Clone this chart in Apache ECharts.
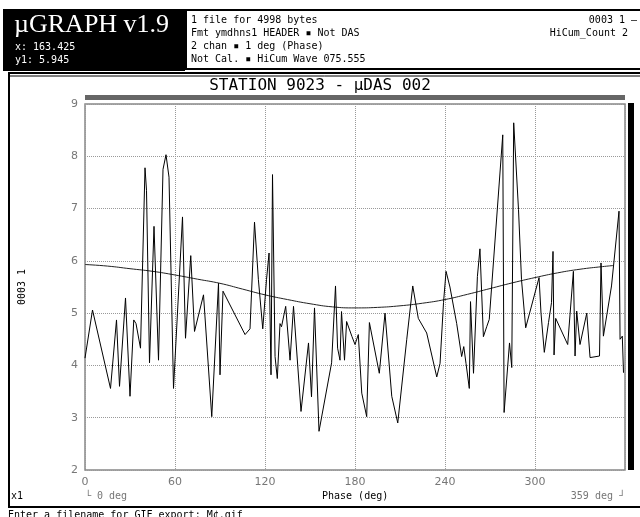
<!DOCTYPE html>
<html>
<head>
<meta charset="utf-8">
<script src="https://cdn.jsdelivr.net/npm/echarts@6/dist/echarts.min.js"></script>
<style>
html,body{margin:0;padding:0;background:#fff;}
#c{width:640px;height:517px;}
</style>
</head>
<body>
<div id="c"></div>
<script>
// Noisy channel (phase in degrees, value)
var phase = [0,5,17,21,23,27,30,32.5,34,37,40,41,43,46,49,52,54,56,59,65,67,70.5,73,79,84.5,89,90,92,106.7,110,113,115.6,118.5,121,122.7,124,125,126.7,128.2,130,131,133.8,136.7,139,144,149,151,153,156,164.4,167,168.4,170,171,173,174.4,178,180,182.2,184.5,187.8,189.6,196.2,200,204.5,208.5,214.5,218.5,222.2,227.8,234.5,236.7,239,240.7,243.3,247.8,251.1,252.5,254,256.2,257,259,261.6,263.3,265.6,267.8,269.5,278.5,279.4,283,284.5,285.8,289,291,293.8,302.7,304,306.2,309,311,312,312.7,313.8,321.8,325.6,326.7,327.8,330,334.5,336.7,343,344,345.6,351,356,356.7,358.2,359];
var signal = [4.14,5.06,3.56,4.87,3.6,5.29,3.41,4.87,4.8,4.33,7.78,7.35,4.05,6.66,4.1,7.75,8.03,7.6,3.56,6.84,4.52,6.1,4.65,5.35,3.02,5.57,3.82,5.42,4.59,4.7,6.74,5.64,4.7,5.64,6.15,3.82,7.65,4.17,3.75,4.8,4.74,5.13,4.1,5.13,3.12,4.43,3.4,5.1,2.74,4.05,5.52,4.33,4.1,5.03,4.1,4.84,4.55,4.4,4.59,3.47,3.02,4.82,3.85,5.0,3.41,2.9,4.5,5.52,4.9,4.62,3.78,4.04,5.2,5.8,5.5,4.8,4.17,4.36,4.04,3.56,5.22,3.85,5.7,6.23,4.55,4.74,4.88,8.41,3.1,4.43,3.96,8.64,6.98,5.64,4.72,5.68,5.0,4.25,4.82,5.2,6.18,4.2,4.9,4.4,5.8,4.18,5.04,4.4,5.0,4.15,4.18,5.96,4.56,5.52,6.95,4.5,4.56,3.86];
// Smooth trend channel
var trendPhase = [0,15,30,45,60,75,90,105,120,135,150,165,180,195,210,225,240,255,270,285,300,315,330,345,352];
var trendValue = [5.93,5.9,5.85,5.8,5.73,5.65,5.57,5.46,5.35,5.26,5.18,5.12,5.1,5.11,5.14,5.19,5.26,5.36,5.47,5.58,5.68,5.77,5.84,5.89,5.91];
// Axis ticks
var xTicks = [0,60,120,180,240,300];
var yMin = 2, yMax = 9, yStep = 1;
var xMin = 0, xMax = 360, xStep = 60;

var sigData = phase.map(function(p,i){return [p, signal[i]];});
var trendData = trendPhase.map(function(p,i){return [p, trendValue[i]];});

var mono = '"DejaVu Sans Mono", monospace';
var chart = echarts.init(document.getElementById('c'), null, {renderer:'canvas'});
chart.setOption({
  animation:false,
  backgroundColor:'#fff',
  grid:{left:85, top:104, width:540, height:366, show:true, borderColor:'#888', borderWidth:1.5, backgroundColor:'transparent'},
  xAxis:{type:'value', min:xMin, max:xMax, interval:xStep,
    axisLine:{show:false}, axisTick:{show:false},
    axisLabel:{color:'#777', fontFamily:'"DejaVu Sans", sans-serif', fontSize:11, margin:7, showMaxLabel:false,
      formatter:function(v){return xTicks.indexOf(v)>=0? String(v):'';}},
    splitLine:{show:true, lineStyle:{color:'#999', type:[1,1], width:1}}},
  yAxis:{type:'value', min:yMin, max:yMax, interval:yStep,
    name:'0003 1', nameLocation:'middle', nameGap:58, nameRotate:90,
    nameTextStyle:{color:'#000', fontFamily:mono, fontSize:10},
    axisLine:{show:false}, axisTick:{show:false},
    axisLabel:{color:'#777', fontFamily:'"DejaVu Sans", sans-serif', fontSize:11, margin:7},
    splitLine:{show:true, lineStyle:{color:'#999', type:[1,1], width:1}}},
  series:[
    {type:'line', data:trendData, smooth:true, symbol:'none', lineStyle:{color:'#222', width:1}, z:3},
    {type:'line', data:sigData, symbol:'none', lineStyle:{color:'#000', width:1}, z:4}
  ],
  graphic:[
    // header black box
    {type:'rect', shape:{x:3,y:9,width:182,height:62}, style:{fill:'#000'}},
    {type:'text', left:14, top:12, style:{text:'\u00b5GRAPH v1.9', fill:'#fff', font:'26px "Liberation Serif", serif'}},
    {type:'text', left:15, top:42, style:{text:'x: 163.425', fill:'#fff', font:'10px '+mono}},
    {type:'text', left:15, top:55, style:{text:'y1: 5.945', fill:'#fff', font:'10px '+mono}},
    // header info box
    {type:'rect', shape:{x:186,y:10,width:460,height:59}, style:{fill:'#fff', stroke:'#000', lineWidth:2}},
    {type:'text', left:191, top:15, style:{text:'1 file for 4998 bytes', fill:'#000', font:'10px '+mono}},
    {type:'text', left:191, top:28, style:{text:'Fmt ymdhns1 HEADER \u25aa Not DAS', fill:'#000', font:'10px '+mono}},
    {type:'text', left:191, top:41, style:{text:'2 chan \u25aa 1 deg (Phase)', fill:'#000', font:'10px '+mono}},
    {type:'text', left:191, top:54, style:{text:'Not Cal. \u25aa HiCum Wave 075.555', fill:'#000', font:'10px '+mono}},
    {type:'text', right:3, top:15, style:{text:'0003 1 \u2014', fill:'#000', font:'10px '+mono}},
    {type:'text', right:12, top:28, style:{text:'HiCum_Count 2', fill:'#000', font:'10px '+mono}},
    // main panel
    {type:'rect', shape:{x:9,y:73,width:640,height:434}, style:{fill:'none', stroke:'#000', lineWidth:2}},
    {type:'line', shape:{x1:9,y1:76,x2:640,y2:76}, style:{stroke:'#000', lineWidth:1}},
    {type:'text', left:'center', top:78, style:{text:'STATION 9023 - \u00b5DAS 002', fill:'#000', font:'16px '+mono}, x:0},
    {type:'rect', shape:{x:85,y:95,width:540,height:5}, style:{fill:'#666'}},
    {type:'rect', shape:{x:628,y:103,width:6,height:367}, style:{fill:'#000'}},
    {type:'text', left:11, top:491, style:{text:'x1', fill:'#000', font:'10px '+mono}},
    {type:'text', left:85, top:491, style:{text:'\u2514 0 deg', fill:'#777', font:'10px '+mono}},
    {type:'text', left:322, top:491, style:{text:'Phase (deg)', fill:'#000', font:'10px '+mono}},
    {type:'text', right:15, top:491, style:{text:'359 deg \u2518', fill:'#777', font:'10px '+mono}},
    {type:'text', left:8, top:510, style:{text:'Enter a filename for GIF export: M\u00a2.gif', fill:'#000', font:'10px '+mono}}
  ]
});
</script>
</body>
</html>
